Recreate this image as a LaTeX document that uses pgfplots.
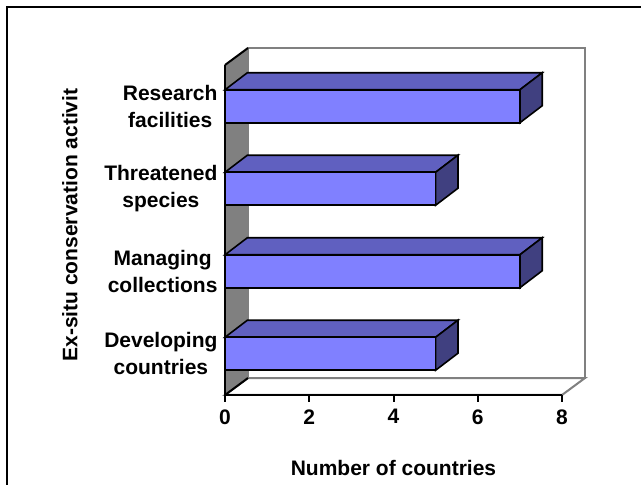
\documentclass[border=0pt]{standalone}
\usepackage{fontspec}
\setmainfont{Liberation Sans}
\usepackage{pgfplots}
\pgfplotsset{compat=1.18}
\definecolor{barfront}{RGB}{128,128,255}
\definecolor{bartop}{RGB}{96,96,192}
\definecolor{barside}{RGB}{64,64,128}
\definecolor{wallgray}{RGB}{128,128,128}
\newcommand{\lfont}{\fontsize{21}{27}\selectfont\bfseries}
\begin{document}
\begin{tikzpicture}
\useasboundingbox (0,0) rectangle (641pt,485pt);
\fill[white] (0,0) rectangle (641pt,485pt);
\draw[line width=2pt] (7pt,-20pt) rectangle (660pt,478pt);
\begin{axis}[
  at={(225pt,90pt)}, anchor=south west,
  scale only axis, width=337pt, height=330pt,
  xmin=0, xmax=8, ymin=-0.5, ymax=3.5,
  clip=false, axis on top,
  axis lines*=left,
  axis line style={line width=2pt},
  xtick={0,2,4,6,8},
  ytick={0,1,2,3},
  yticklabels={Developing\\countries, Managing\\collections, Threatened\\species, Research\\facilities},
  yticklabel style={align=center, font=\lfont, xshift=3pt},
  xticklabel style={font=\lfont, yshift=-4pt},
  /pgf/number format/assume math mode=true,
  tick align=outside,
  x tick style={line width=2pt, black},
  major tick length=7pt,
  y tick style={draw=none},
  xlabel={Number of countries},
  ylabel={Ex-situ conservation activit},
  label style={font=\lfont},
  xlabel style={at={(axis description cs:0.5,-0.221)}, anchor=center},
  ylabel style={at={(axis description cs:-0.46,0.515)}, anchor=center},
]
% back wall
\addplot[fill=white, draw=wallgray, line width=2pt] coordinates {(0.546,-0.294) (8.546,-0.294) (8.546,3.706) (0.546,3.706)} -- cycle;
% floor
\addplot[fill=white, draw=wallgray, line width=2pt] coordinates {(0,-0.5) (8,-0.5) (8.546,-0.294) (0.546,-0.294)} -- cycle;
% left wall
\addplot[fill=wallgray, draw=none] coordinates {(0,-0.5) (0,3.5) (0.546,3.706) (0.546,-0.294)} -- cycle;
\addplot[black, line width=2pt] coordinates {(0.546,-0.294) (0,-0.5)};
\addplot[black, line width=2pt] coordinates {(0,3.5) (0.546,3.706)};
% bar tops
\addplot[fill=bartop, draw=black, line width=1.6pt] coordinates {(0,0.2) (5,0.2) (5.53,0.406) (0.53,0.406)} -- cycle;
\addplot[fill=bartop, draw=black, line width=1.6pt] coordinates {(0,1.2) (7,1.2) (7.53,1.406) (0.53,1.406)} -- cycle;
\addplot[fill=bartop, draw=black, line width=1.6pt] coordinates {(0,2.2) (5,2.2) (5.53,2.406) (0.53,2.406)} -- cycle;
\addplot[fill=bartop, draw=black, line width=1.6pt] coordinates {(0,3.2) (7,3.2) (7.53,3.406) (0.53,3.406)} -- cycle;
% bar sides
\addplot[fill=barside, draw=black, line width=1.6pt] coordinates {(5,-0.2) (5.53,0.006) (5.53,0.406) (5,0.2)} -- cycle;
\addplot[fill=barside, draw=black, line width=1.6pt] coordinates {(7,0.8) (7.53,1.006) (7.53,1.406) (7,1.2)} -- cycle;
\addplot[fill=barside, draw=black, line width=1.6pt] coordinates {(5,1.8) (5.53,2.006) (5.53,2.406) (5,2.2)} -- cycle;
\addplot[fill=barside, draw=black, line width=1.6pt] coordinates {(7,2.8) (7.53,3.006) (7.53,3.406) (7,3.2)} -- cycle;
% bar fronts
\addplot[xbar, bar width=33pt, fill=barfront, draw=black, line width=1.6pt] coordinates {(5,0) (7,1) (5,2) (7,3)};
\end{axis}
\end{tikzpicture}
\end{document}
